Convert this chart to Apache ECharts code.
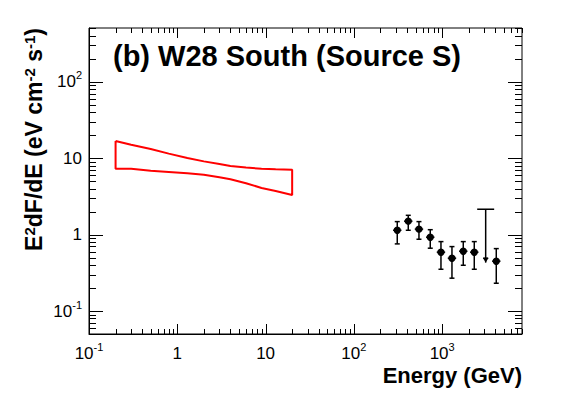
<!DOCTYPE html>
<html>
<head>
<meta charset="utf-8">
<script src="https://cdn.jsdelivr.net/npm/echarts@6/dist/echarts.min.js"></script>
<style>
html,body{margin:0;padding:0;background:#fff;}
#chart{width:587px;height:394px;}
</style>
</head>
<body>
<div id="chart"></div>
<script>
// ---- axis ranges ----
const xMin = 0.1, xMax = 8020;
const yMin = 0.05, yMax = 507;

// ---- data points ----
const energy  = [310, 413, 546, 733, 969, 1291, 1734, 2310, 4100];
const flux    = [1.14, 1.50, 1.18, 0.925, 0.589, 0.491, 0.606, 0.589, 0.449];
const fluxLo  = [0.756, 1.14, 0.87, 0.664, 0.352, 0.269, 0.397, 0.352, 0.231];
const fluxHi  = [1.48, 1.79, 1.48, 1.16, 0.81, 0.697, 0.81, 0.81, 0.656];

// ---- upper limit ----
const ulEnergy   = [3110];
const ulFlux     = [2.15];
const ulArrowTip = [0.43];

// ---- butterfly (bow-tie) ----
const bowE     = [0.2, 0.3, 0.5, 0.8, 1.3, 2, 3, 4, 6, 9, 13, 20];
const bowUpper = [16.8, 15.0, 13.2, 11.5, 10.1, 9.1, 8.42, 7.93, 7.54, 7.31, 7.18, 7.09];
const bowLower = [7.31, 7.31, 6.88, 6.62, 6.36, 6.08, 5.64, 5.31, 4.71, 4.08, 3.73, 3.31];

// ---- tick decades ----
const xDecades = [0.1, 1, 10, 100, 1000];
const yDecades = [0.01, 0.1, 1, 10, 100];
const minorMult = [2, 3, 4, 5, 6, 7, 8, 9];

const FONT = '"Liberation Sans", Arial, Helvetica, sans-serif';

function buildTicks(decades, lo, hi) {
  const out = [];
  decades.forEach(d => {
    if (d >= lo * 0.9999 && d <= hi * 1.0001) out.push({v: d, major: 1});
    minorMult.forEach(m => {
      const v = d * m;
      if (v >= lo * 0.9999 && v <= hi * 1.0001) out.push({v: v, major: 0});
    });
  });
  return out;
}
const xTicks = buildTicks(xDecades, xMin, xMax);
const yTicks = buildTicks(yDecades, yMin, yMax);

function powLabel(v) {
  const l = Math.log10(v);
  const r = Math.round(l);
  if (Math.abs(l - r) > 1e-6) return '';
  if (r === 0) return '{m|1}';
  if (r === 1) return '{m|10}';
  return '{m|10}{s|' + r + '}';
}
const labelRich = {
  m: {fontSize: 17, fontFamily: FONT, color: '#000', lineHeight: 18},
  s: {fontSize: 11, fontFamily: FONT, color: '#000', lineHeight: 18, padding: [0, 0, 13, 0]}
};

// bow-tie polygon path
const bowPath = [];
for (let i = 0; i < bowE.length; i++) bowPath.push([bowE[i], bowUpper[i]]);
for (let i = bowE.length - 1; i >= 0; i--) bowPath.push([bowE[i], bowLower[i]]);
bowPath.push([bowE[0], bowUpper[0]]);

const pointData = energy.map((e, i) => [e, flux[i], fluxLo[i], fluxHi[i]]);
const ulData = ulEnergy.map((e, i) => [e, ulFlux[i], ulArrowTip[i]]);

const chart = echarts.init(document.getElementById('chart'), null, {renderer: 'svg'});

const option = {
  animation: false,
  backgroundColor: '#fff',
  title: [
    {
      text: '(b) W28 South (Source S)',
      left: 113, top: 41, padding: 0,
      textStyle: {fontFamily: FONT, fontWeight: 'bold', fontSize: 29, lineHeight: 29, color: '#000'}
    },
    {
      text: 'Energy (GeV)',
      right: 65, top: 367, padding: 0,
      textStyle: {fontFamily: FONT, fontWeight: 'bold', fontSize: 22, lineHeight: 16, color: '#000'}
    }
  ],
  grid: {
    left: 89, top: 28, right: 65, bottom: 60,
    show: true, borderColor: '#000', borderWidth: 1, backgroundColor: 'transparent'
  },
  xAxis: {
    type: 'log', logBase: 10, min: xMin, max: xMax,
    axisLine: {show: true, lineStyle: {color: '#000', width: 1}},
    axisTick: {show: false},
    splitLine: {show: false},
    axisLabel: {margin: 10, formatter: powLabel, rich: labelRich, hideOverlap: false}
  },
  yAxis: {
    type: 'log', logBase: 10, min: yMin, max: yMax,
    axisLine: {show: true, lineStyle: {color: '#000', width: 1}},
    axisTick: {show: false},
    splitLine: {show: false},
    axisLabel: {margin: 7, formatter: powLabel, rich: labelRich, hideOverlap: false}
  },
  graphic: [
    {
      type: 'text',
      x: 34, y: 28,
      rotation: Math.PI / 2,
      style: {
        text: '{m|E}{s|2}{m|dF/dE (eV cm}{s|-2}{m| s}{s|-1}{m|)}',
        align: 'right', verticalAlign: 'middle',
        rich: {
          m: {fontSize: 23, fontWeight: 'bold', fontFamily: FONT, fill: '#000', lineHeight: 26},
          s: {fontSize: 15, fontWeight: 'bold', fontFamily: FONT, fill: '#000', lineHeight: 26, padding: [0, 0, 9, 0]}
        }
      }
    }
  ],
  series: [
    {
      type: 'custom',
      name: 'xticks',
      silent: true,
      data: xTicks.map(t => [t.v, 1, t.major]),
      renderItem: function (params, api) {
        const cs = params.coordSys;
        const p = api.coord([api.value(0), 1]);
        const L = api.value(2) ? 10 : 5;
        const x = Math.round(p[0]) + 0.5;
        const yb = cs.y + cs.height, yt = cs.y;
        const st = {stroke: '#000', lineWidth: 1};
        return {type: 'group', children: [
          {type: 'line', shape: {x1: x, y1: yb, x2: x, y2: yb - L}, style: st},
          {type: 'line', shape: {x1: x, y1: yt, x2: x, y2: yt + L}, style: st}
        ]};
      }
    },
    {
      type: 'custom',
      name: 'yticks',
      silent: true,
      data: yTicks.map(t => [1, t.v, t.major]),
      renderItem: function (params, api) {
        const cs = params.coordSys;
        const p = api.coord([1, api.value(1)]);
        const L = api.value(2) ? 14 : 7;
        const y = Math.round(p[1]) + 0.5;
        const xl = cs.x, xr = cs.x + cs.width;
        const st = {stroke: '#000', lineWidth: 1};
        return {type: 'group', children: [
          {type: 'line', shape: {x1: xl, y1: y, x2: xl + L, y2: y}, style: st},
          {type: 'line', shape: {x1: xr, y1: y, x2: xr - L, y2: y}, style: st}
        ]};
      }
    },
    {
      type: 'line',
      name: 'bowtie',
      data: bowPath,
      showSymbol: false,
      symbol: 'none',
      lineStyle: {color: '#ff0000', width: 2},
      z: 3
    },
    {
      type: 'custom',
      name: 'points',
      data: pointData,
      z: 4,
      renderItem: function (params, api) {
        const c = api.coord([api.value(0), api.value(1)]);
        const lo = api.coord([api.value(0), api.value(2)]);
        const hi = api.coord([api.value(0), api.value(3)]);
        const st = {stroke: '#000', lineWidth: 1.5};
        const cap = 2.5;
        return {type: 'group', children: [
          {type: 'line', shape: {x1: c[0], y1: hi[1], x2: c[0], y2: lo[1]}, style: st},
          {type: 'line', shape: {x1: c[0] - cap, y1: hi[1], x2: c[0] + cap, y2: hi[1]}, style: st},
          {type: 'line', shape: {x1: c[0] - cap, y1: lo[1], x2: c[0] + cap, y2: lo[1]}, style: st},
          {type: 'line', shape: {x1: c[0] - 4.2, y1: c[1], x2: c[0] + 4.2, y2: c[1]}, style: st},
          {type: 'circle', shape: {cx: c[0], cy: c[1], r: 3.7}, style: {fill: '#000'}}
        ]};
      }
    },
    {
      type: 'custom',
      name: 'upperlimit',
      data: ulData,
      z: 4,
      renderItem: function (params, api) {
        const top = api.coord([api.value(0), api.value(1)]);
        const tip = api.coord([api.value(0), api.value(2)]);
        const st = {stroke: '#000', lineWidth: 1.5};
        const x = top[0];
        return {type: 'group', children: [
          {type: 'line', shape: {x1: x, y1: top[1], x2: x, y2: tip[1]}, style: st},
          {type: 'line', shape: {x1: x - 8.5, y1: top[1], x2: x + 8.5, y2: top[1]}, style: st},
          {type: 'line', shape: {x1: x - 2.5, y1: tip[1] - 4.5, x2: x + 2.5, y2: tip[1] - 4.5}, style: st},
          {type: 'polygon', shape: {points: [[x - 2.8, tip[1] - 4.5], [x + 2.8, tip[1] - 4.5], [x, tip[1]]]}, style: {fill: '#000'}}
        ]};
      }
    }
  ]
};
chart.setOption(option);
</script>
</body>
</html>
